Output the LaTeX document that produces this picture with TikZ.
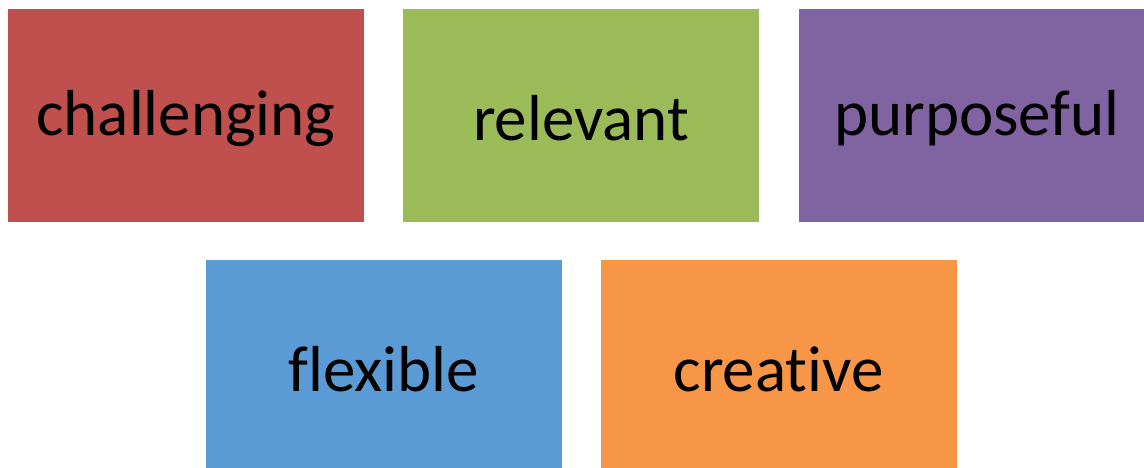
\documentclass[tikz,border=0pt]{standalone}
\usepackage{fontspec}
\setmainfont[Ligatures=NoCommon]{Carlito}
\definecolor{cred}{HTML}{C0504D}
\definecolor{cgreen}{HTML}{9BBB59}
\definecolor{cpurple}{HTML}{8064A2}
\definecolor{cblue}{HTML}{5B9BD5}
\definecolor{corange}{HTML}{F79646}
\begin{document}
\begin{tikzpicture}[x=1pt,y=-1pt,
  tile/.style={draw=none, inner sep=0pt, minimum width=356pt, minimum height=213pt},
  word/.style={inner sep=0pt, font=\fontsize{65}{70}\selectfont, text=black, yshift=-3pt}]
\useasboundingbox (0,0) rectangle (1144,468);
\clip (0,0) rectangle (1144,468);
\node[tile, fill=cred] (chal) at (186,115.5) {};
\node[tile, fill=cgreen] (rel) at (581,115.5) {};
\node[tile, fill=cpurple] (purp) at (977,115.5) {};
\node[tile, fill=cblue] (flex) at (384,366.5) {};
\node[tile, fill=corange] (crea) at (778.5,366.5) {};
\node[word] (tchal) at (chal.center) {challenging};
\node[word] (trel) at (rel.center) {relevant};
\node[word] (tpurp) at (purp.center) {purposeful};
\node[word] (tflex) at (flex.center) {flexible};
\node[word] (tcrea) at (crea.center) {creative};
\end{tikzpicture}
\end{document}
